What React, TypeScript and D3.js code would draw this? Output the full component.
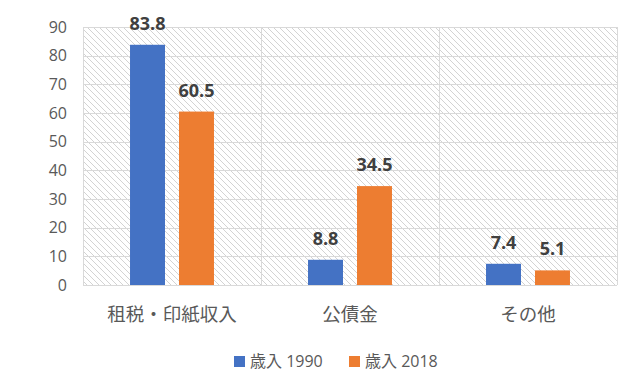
import React, { useEffect, useRef } from 'react';
import * as d3 from 'd3';

const categories = ['租税・印紙収入', '公債金', 'その他'];
const seriesNames = ['歳入 1990', '歳入 2018'];
const values1990 = [83.8, 8.8, 7.4];
const values2018 = [60.5, 34.5, 5.1];
const yTicks = [0, 10, 20, 30, 40, 50, 60, 70, 80, 90];
const colors = ['#4472c4', '#ed7d31'];

const App = () => {
  const svgRef = useRef<SVGSVGElement>(null);

  useEffect(() => {
    const svg = d3.select(svgRef.current);
    svg.selectAll('*').remove();
    const width = 638;
    const height = 386;
    const margin = { top: 27, right: 21, bottom: 101, left: 83 };
    const font = '"Open Sans", "Noto Sans CJK JP", sans-serif';

    const x = d3.scaleBand()
      .domain(categories)
      .range([margin.left, width - margin.right]);
    const x1 = d3.scaleBand()
      .domain(seriesNames)
      .range([0, x.bandwidth()])
      .paddingInner(0.286)
      .paddingOuter(0.96);
    const y = d3.scaleLinear()
      .domain([0, 90])
      .range([height - margin.bottom, margin.top]);

    // hatch background
    const defs = svg.append('defs');
    const pat = defs.append('pattern')
      .attr('id', 'hatch')
      .attr('patternUnits', 'userSpaceOnUse')
      .attr('width', 6)
      .attr('height', 6);
    pat.append('path')
      .attr('d', 'M-1,-1 L7,7 M-1,5 L1,7 M5,-1 L7,1')
      .attr('stroke', '#d3d3d3')
      .attr('stroke-width', 1);

    svg.append('rect')
      .attr('x', margin.left)
      .attr('y', margin.top)
      .attr('width', width - margin.left - margin.right)
      .attr('height', height - margin.top - margin.bottom)
      .attr('fill', 'url(#hatch)');

    // grid
    const grid = svg.append('g').attr('stroke', '#d9d9d9').attr('stroke-width', 1);
    grid.selectAll('line.h')
      .data(yTicks)
      .enter()
      .append('line')
      .attr('x1', margin.left)
      .attr('x2', width - margin.right)
      .attr('y1', (d) => Math.round(y(d)) + 0.5)
      .attr('y2', (d) => Math.round(y(d)) + 0.5);
    const vx = categories.map((c) => x(c)!).concat([width - margin.right]);
    grid.selectAll('line.v')
      .data(vx)
      .enter()
      .append('line')
      .attr('x1', (d) => Math.round(d) + 0.5)
      .attr('x2', (d) => Math.round(d) + 0.5)
      .attr('y1', margin.top)
      .attr('y2', height - margin.bottom);

    // y tick labels
    svg.append('g')
      .selectAll('text')
      .data(yTicks)
      .enter()
      .append('text')
      .attr('x', 67)
      .attr('y', (d) => y(d))
      .attr('dy', '0.35em')
      .attr('text-anchor', 'end')
      .attr('fill', '#595959')
      .style('font-family', font)
      .style('font-size', '16px')
      .text((d) => d);

    // bars
    const series = [values1990, values2018];
    const groups = svg.append('g');
    series.forEach((vals, si) => {
      groups.selectAll(`rect.s${si}`)
        .data(vals)
        .enter()
        .append('rect')
        .attr('x', (d, i) => x(categories[i])! + x1(seriesNames[si])!)
        .attr('y', (d) => y(d))
        .attr('width', x1.bandwidth())
        .attr('height', (d) => y(0) - y(d))
        .attr('fill', colors[si]);
      groups.selectAll(`text.s${si}`)
        .data(vals)
        .enter()
        .append('text')
        .attr('x', (d, i) => x(categories[i])! + x1(seriesNames[si])! + x1.bandwidth() / 2)
        .attr('y', (d) => y(d) - 15)
        .attr('text-anchor', 'middle')
        .attr('fill', '#404040')
        .style('font-family', font)
        .style('font-size', '18px')
        .style('font-weight', 'bold')
        .text((d) => d.toFixed(1));
    });

    // category labels
    svg.append('g')
      .selectAll('text')
      .data(categories)
      .enter()
      .append('text')
      .attr('x', (d) => x(d)! + x.bandwidth() / 2)
      .attr('y', 321)
      .attr('text-anchor', 'middle')
      .attr('fill', '#595959')
      .style('font-family', font)
      .style('font-size', '18.5px')
      .text((d) => d);

    // legend
    const legendX = [234, 349];
    const legend = svg.append('g');
    seriesNames.forEach((name, i) => {
      legend.append('rect')
        .attr('x', legendX[i])
        .attr('y', 356)
        .attr('width', 11)
        .attr('height', 11)
        .attr('fill', colors[i]);
      legend.append('text')
        .attr('x', legendX[i] + 16)
        .attr('y', 367)
        .attr('fill', '#595959')
        .style('font-family', font)
        .style('font-size', '16px')
        .text(name);
    });
  }, []);

  return (
    <svg ref={svgRef} width={638} height={386}
      style={{ position: 'absolute', left: 0, top: 0, background: '#fff' }} />
  );
};

export default App;
